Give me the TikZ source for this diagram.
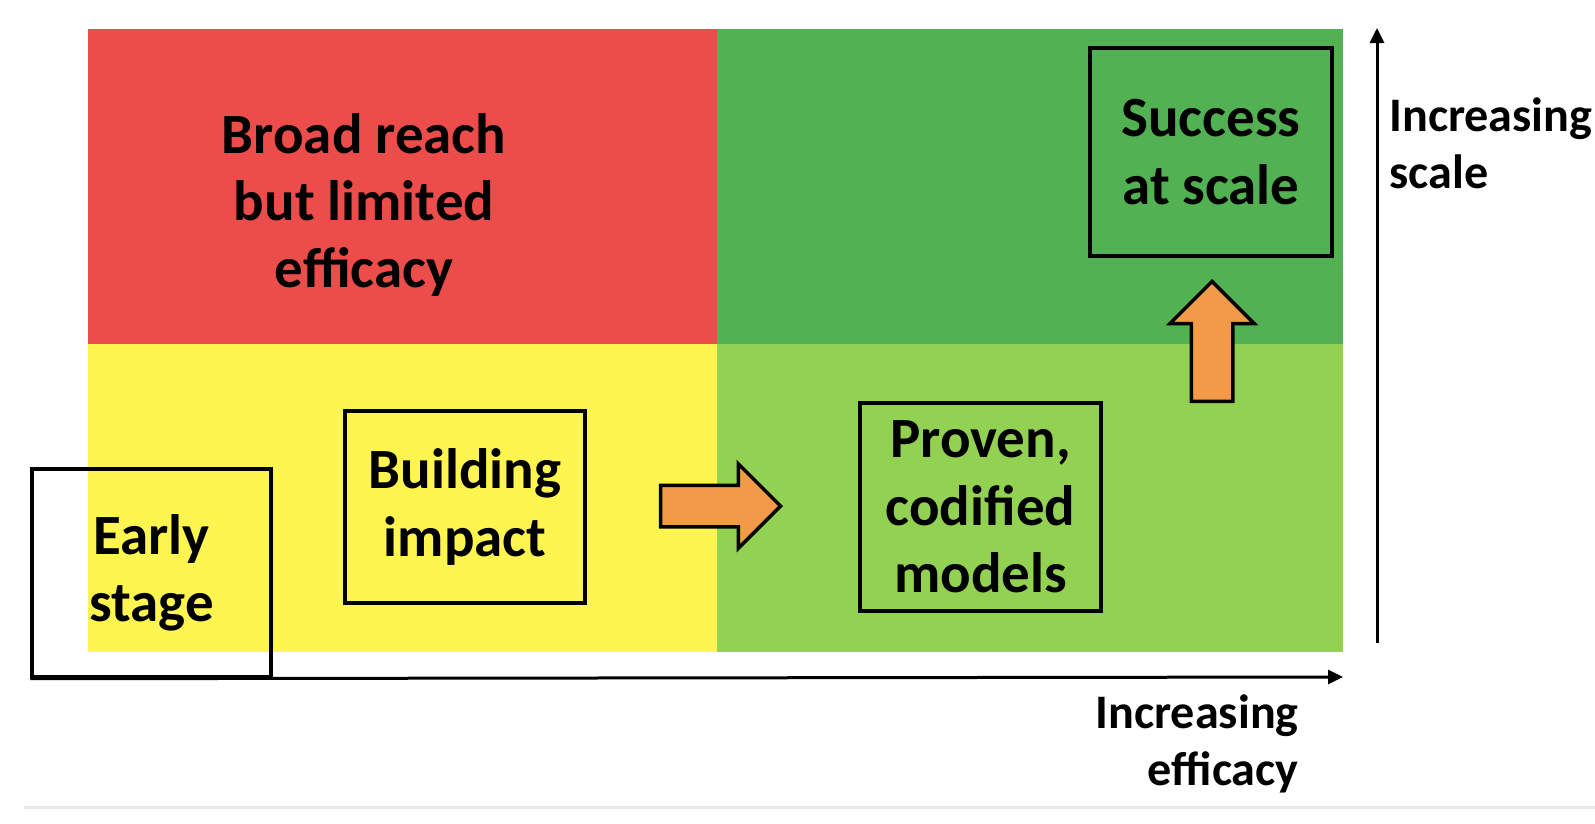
\documentclass[tikz,border=0pt]{standalone}
\usepackage{fontspec}
\setmainfont{Carlito}
\usetikzlibrary{arrows.meta,shapes.arrows}

\definecolor{quadred}{HTML}{EC4D4B}
\definecolor{quadyellow}{HTML}{FFF550}
\definecolor{quaddark}{HTML}{52B152}
\definecolor{quadlight}{HTML}{93D152}
\definecolor{stepfill}{HTML}{F29A47}

\tikzset{
    stagebox/.style={draw, line width=0.07cm, minimum width=4.8cm, minimum height=4.16cm,
        align=center, inner sep=0pt, font=\fontsize{32.4}{38.4}\selectfont\bfseries},
    bigtext/.style={align=center, font=\fontsize{32.4}{38.4}\selectfont\bfseries},
    axistext/.style={inner sep=0pt, font=\fontsize{27.4}{32.6}\selectfont\bfseries},
    axis/.style={line width=0.06cm, -{Triangle[length=0.3cm,width=0.28cm]}},
    movearrow/.style={single arrow, draw, fill=stepfill, line width=0.07cm,
        inner sep=0.38cm, single arrow head extend=0.43cm, minimum height=2.4cm}
}

\begin{document}
\begin{tikzpicture}[x=0.02cm,y=-0.02cm]
    \useasboundingbox[fill=white] (0,0) rectangle (1595,823);

    % quadrants
    \fill[quadred] (88,29) rectangle (717,344);
    \fill[quaddark] (717,29) rectangle (1343,344);
    \fill[quadyellow] (88,344) rectangle (717,652);
    \fill[quadlight] (717,344) rectangle (1343,652);

    \node[bigtext] (reach) at (364,205) {Broad reach\\but limited\\efficacy};

    % stages
    \node[stagebox, minimum width=4.78cm] (early) at (151.5,573) {Early\\stage};
    \node[stagebox, minimum height=3.84cm] (build) at (465,507) {Building\\impact};
    \node[stagebox, minimum width=4.82cm] (proven) at (980.5,507) {Proven,\\codified\\models};
    \node[stagebox, minimum width=4.84cm] (success) at (1211,152) {Success\\at scale};

    \node[movearrow, anchor=tip] (right) at (783,506) {};
    \node[movearrow, shape border rotate=90, anchor=tip] (up) at (1212,279) {};

    % axes
    \coordinate (xend) at (1343,677);
    \coordinate (ybot) at (1377,643);
    \coordinate (yend) at (1377,28);
    \draw[axis] (early.south west) -- (xend);
    \draw[axis] (ybot) -- (yend);

    \node[axistext, anchor=west, align=left] (scale) at (1389,143) {Increasing\\scale};
    \node[axistext, anchor=east, align=right] (efficacy) at (1299,744) {Increasing\\efficacy};

    \coordinate (lineL) at (24,807);
    \coordinate (lineR) at (1595,807);
    \draw[line width=0.06cm, black!9] (lineL) -- (lineR);
\end{tikzpicture}
\end{document}
